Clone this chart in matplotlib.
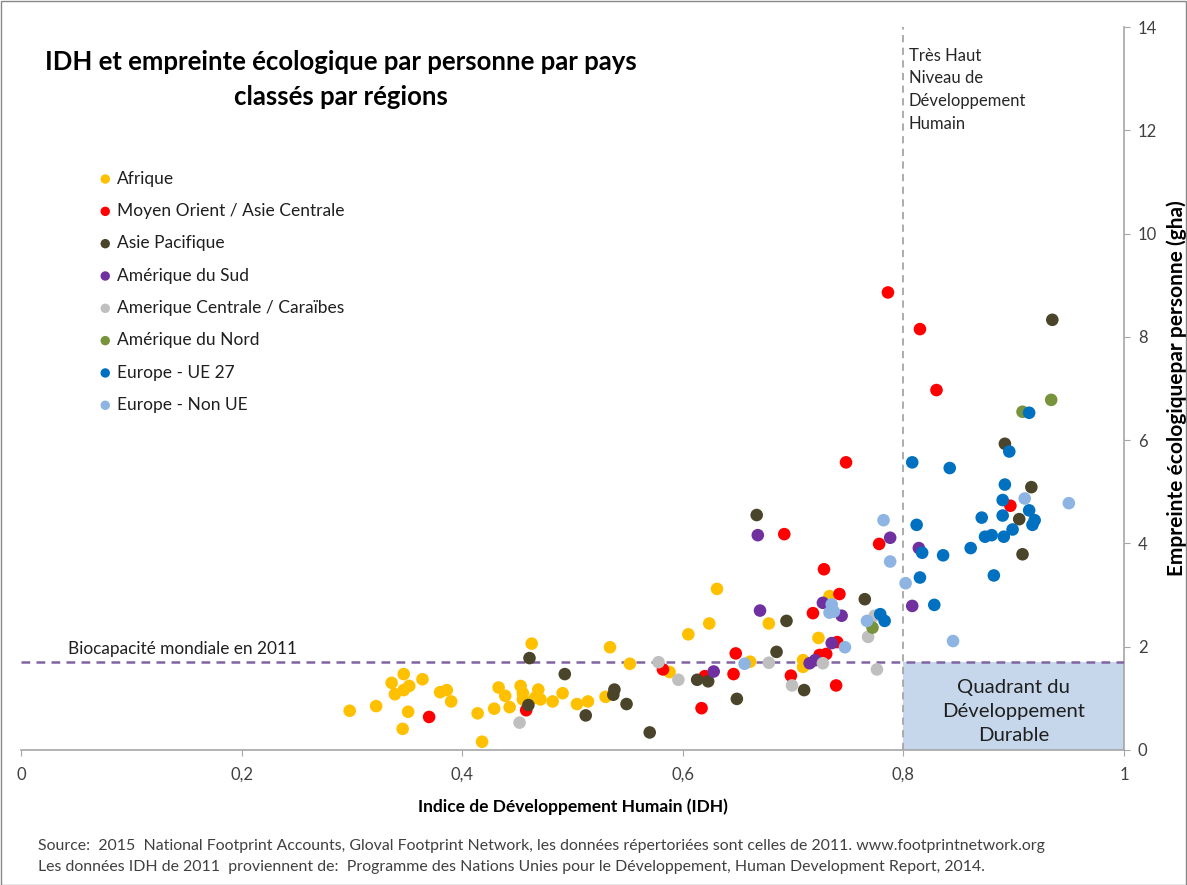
import matplotlib
matplotlib.use('Agg')
import matplotlib.pyplot as plt
from matplotlib.patches import Rectangle
from matplotlib.ticker import FuncFormatter

plt.rcParams['font.family'] = ['Lato', 'DejaVu Sans']

# -- data: (IDH, empreinte ecologique gha) per region --
afrique_x = [0.298, 0.322, 0.347, 0.336, 0.339, 0.347, 0.352, 0.364, 0.351, 0.346,
             0.380, 0.386, 0.390, 0.414, 0.418, 0.429, 0.433, 0.439, 0.443, 0.453,
             0.455, 0.455, 0.469, 0.466, 0.471, 0.482, 0.491, 0.504, 0.514, 0.530,
             0.463, 0.534, 0.552, 0.588, 0.605, 0.624, 0.631, 0.661, 0.678, 0.709,
             0.709, 0.723, 0.733]
afrique_y = [0.76, 0.85, 1.47, 1.30, 1.08, 1.16, 1.24, 1.37, 0.74, 0.41,
             1.12, 1.16, 0.94, 0.71, 0.16, 0.80, 1.21, 1.05, 0.83, 1.24,
             1.10, 0.98, 1.17, 1.01, 0.98, 0.94, 1.10, 0.89, 0.94, 1.03,
             2.06, 1.99, 1.67, 1.51, 2.24, 2.45, 3.12, 1.71, 2.45, 1.74,
             1.61, 2.17, 2.98]

moyen_orient_x = [0.370, 0.458, 0.582, 0.620, 0.617, 0.648, 0.646, 0.692, 0.698, 0.718,
                  0.724, 0.730, 0.728, 0.742, 0.740, 0.739, 0.748, 0.778, 0.786, 0.815,
                  0.830, 0.897]
moyen_orient_y = [0.64, 0.77, 1.56, 1.43, 0.81, 1.87, 1.47, 4.18, 1.44, 2.65,
                  1.84, 1.86, 3.50, 3.02, 2.09, 1.25, 5.57, 3.99, 8.86, 8.15,
                  6.97, 4.73]

asie_pac_x = [0.461, 0.460, 0.493, 0.512, 0.538, 0.537, 0.549, 0.570, 0.613, 0.623,
              0.649, 0.667, 0.685, 0.694, 0.710, 0.765, 0.892, 0.916, 0.905, 0.908,
              0.935]
asie_pac_y = [1.78, 0.87, 1.47, 0.67, 1.17, 1.07, 0.89, 0.34, 1.36, 1.33,
              0.99, 4.55, 1.90, 2.50, 1.16, 2.92, 5.93, 5.09, 4.47, 3.79,
              8.33]

am_sud_x = [0.628, 0.668, 0.670, 0.715, 0.720, 0.727, 0.735, 0.744, 0.788, 0.814, 0.808]
am_sud_y = [1.52, 4.16, 2.70, 1.68, 1.74, 2.85, 2.07, 2.60, 4.11, 3.91, 2.79]

am_centrale_x = [0.452, 0.578, 0.596, 0.678, 0.699, 0.727, 0.768, 0.774, 0.776]
am_centrale_y = [0.53, 1.70, 1.36, 1.69, 1.25, 1.68, 2.19, 2.60, 1.56]

am_nord_x = [0.772, 0.908, 0.934]
am_nord_y = [2.37, 6.55, 6.78]

ue27_x = [0.779, 0.783, 0.808, 0.812, 0.817, 0.815, 0.828, 0.836, 0.842, 0.861,
          0.871, 0.874, 0.880, 0.882, 0.890, 0.890, 0.891, 0.892, 0.896, 0.899,
          0.914, 0.914, 0.919, 0.917]
ue27_y = [2.63, 2.50, 5.57, 4.36, 3.82, 3.34, 2.81, 3.77, 5.46, 3.91,
          4.50, 4.13, 4.16, 3.38, 4.84, 4.54, 4.13, 5.14, 5.78, 4.27,
          6.53, 4.64, 4.45, 4.36]

non_ue_x = [0.656, 0.735, 0.733, 0.737, 0.747, 0.767, 0.782, 0.788, 0.802, 0.845, 0.910, 0.950]
non_ue_y = [1.67, 2.82, 2.66, 2.68, 1.99, 2.50, 4.45, 3.65, 3.23, 2.11, 4.87, 4.78]

regions = ['Afrique', 'Moyen Orient / Asie Centrale', 'Asie Pacifique',
           'Amérique du Sud', 'Amerique Centrale / Caraïbes', 'Amérique du Nord',
           'Europe - UE 27', 'Europe - Non UE']
series = [(afrique_x, afrique_y), (moyen_orient_x, moyen_orient_y),
          (asie_pac_x, asie_pac_y), (am_sud_x, am_sud_y),
          (am_centrale_x, am_centrale_y), (am_nord_x, am_nord_y),
          (ue27_x, ue27_y), (non_ue_x, non_ue_y)]
colors = ['#FFC000', '#FF0000', '#4A452A', '#7030A0',
          '#BFBFBF', '#77933C', '#0070C0', '#8DB4E2']

biocap = 1.7
seuil_idh = 0.8

W, H = 1187, 885
fig = plt.figure(figsize=(W / 100, H / 100), dpi=100)
fig.patch.set_facecolor('white')
fig.add_artist(Rectangle((0.5 / W, 0.5 / H), 1 - 1.5 / W, 1 - 1.5 / H,
                         transform=fig.transFigure, fill=False,
                         edgecolor='#888888', lw=1.0))

ax = fig.add_axes([21 / W, (H - 750) / H, 1103 / W, 723 / H])
ax.set_xlim(0, 1)
ax.set_ylim(0, 14)

for (xs, ys), lab, c in zip(series, regions, colors):
    ax.scatter(xs, ys, s=82, color=c, edgecolors='none', label=lab, zorder=4)

# quadrant du developpement durable
ax.add_patch(Rectangle((seuil_idh, 0), 1 - seuil_idh, biocap,
                       facecolor='#C6D7EC', edgecolor='none', zorder=1))
ax.text(0.9, 0.74, 'Quadrant du\nDéveloppement\nDurable', ha='center', va='center',
        fontsize=14.6, color='#1f1f1f', linespacing=1.5, zorder=2)

ax.axhline(biocap, color='#8064A2', lw=1.8, ls=(0, (3.5, 2.5)), zorder=3)
ax.axvline(seuil_idh, color='#A6A6A6', lw=1.3, ls=(0, (4, 3)), zorder=3)
ax.text(0.043, biocap + 0.1, 'Biocapacité mondiale en 2011', fontsize=12.4,
        color='#1f1f1f', va='bottom')
ax.text(seuil_idh + 0.005, 13.6, 'Très Haut\nNiveau de\nDéveloppement\nHumain',
        fontsize=12, color='#262626', va='top', ha='left', linespacing=1.52)

# axes styling
for side in ['left', 'top']:
    ax.spines[side].set_visible(False)
for side in ['right', 'bottom']:
    ax.spines[side].set_color('#A6A6A6')
    ax.spines[side].set_linewidth(1.2)
ax.yaxis.tick_right()
ax.yaxis.set_label_position('right')
ax.set_xticks([0, 0.2, 0.4, 0.6, 0.8, 1.0])
ax.set_yticks(range(0, 15, 2))
ax.xaxis.set_major_formatter(FuncFormatter(lambda v, p: ('%g' % v).replace('.', ',')))
ax.tick_params(axis='both', colors='#A6A6A6', labelcolor='#404040',
               labelsize=12, length=4, direction='out')
ax.tick_params(axis='x', pad=8)
ax.tick_params(axis='y', pad=6)
ax.set_xlabel('Indice de Développement Humain (IDH)', fontsize=12.5,
              fontweight='bold', labelpad=11)
ax.set_ylabel('Empreinte écologiquepar personne (gha)', fontsize=15,
              fontweight='bold', labelpad=7)

leg = ax.legend(loc='upper left', bbox_to_anchor=(0.063, 0.811), frameon=False,
                fontsize=12.5, labelspacing=0.94, handletextpad=0.2,
                handlelength=0.9, markerscale=0.75, borderaxespad=0)
for t in leg.get_texts():
    t.set_color('#1f1f1f')

fig.text(341 / W, 1 - 62 / H, 'IDH et empreinte écologique par personne par pays',
         ha='center', va='center', fontsize=18.5, fontweight='bold')
fig.text(341 / W, 1 - 97 / H, 'classés par régions',
         ha='center', va='center', fontsize=18.5, fontweight='bold')

fig.text(38 / W, 1 - 846 / H,
         'Source:  2015  National Footprint Accounts, Gloval Footprint Network, les données '
         'répertoriées sont celles de 2011. www.footprintnetwork.org',
         fontsize=11.4, color='#404040', va='center')
fig.text(38 / W, 1 - 867 / H,
         'Les données IDH de 2011  proviennent de:  Programme des Nations Unies pour le '
         'Développement, Human Development Report, 2014.',
         fontsize=11.4, color='#404040', va='center')

fig.savefig('out.png', dpi=100)
